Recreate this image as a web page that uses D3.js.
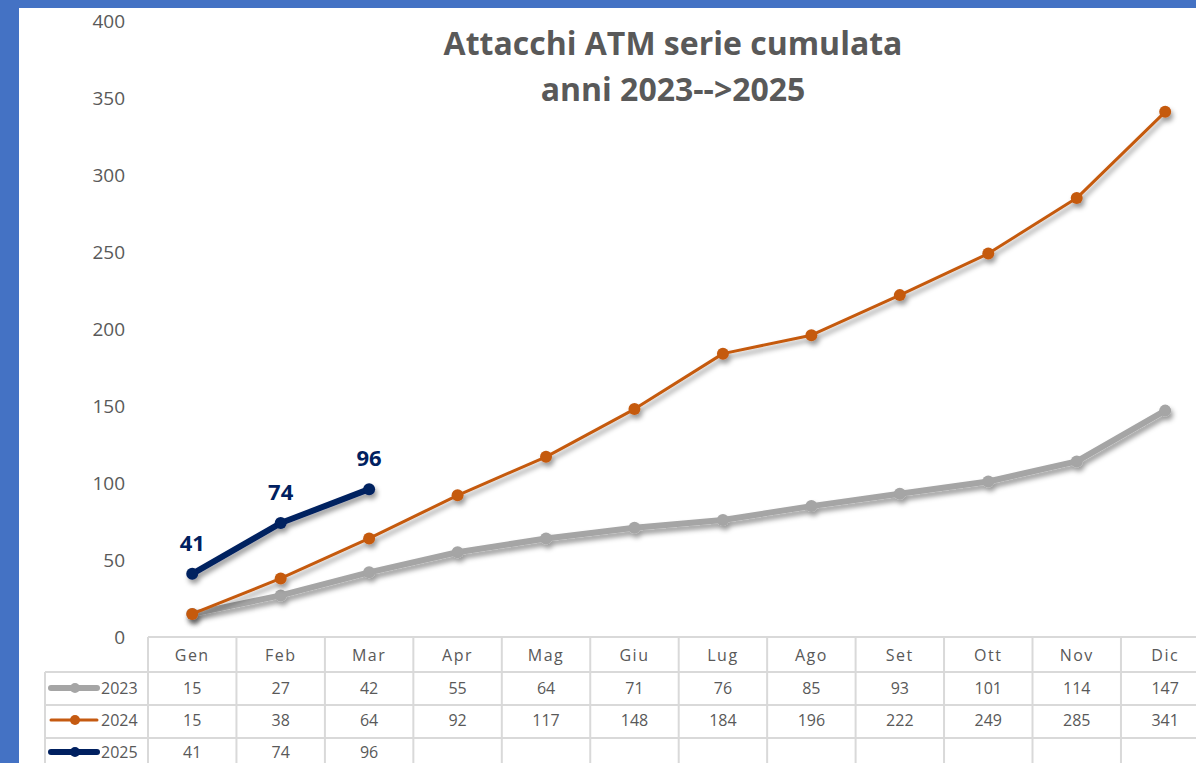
<!DOCTYPE html>
<html>
<head>
<meta charset="utf-8">
<script src="https://cdn.jsdelivr.net/npm/d3@7"></script>
<style>
  body { margin: 0; background: #4472C4; }
  svg { display: block; }
</style>
</head>
<body>
<div id="chart"></div>
<script>
var months = ["Gen", "Feb", "Mar", "Apr", "Mag", "Giu", "Lug", "Ago", "Set", "Ott", "Nov", "Dic"];
var yTicks = [0, 50, 100, 150, 200, 250, 300, 350, 400];
var v2023 = [15, 27, 42, 55, 64, 71, 76, 85, 93, 101, 114, 147];
var v2024 = [15, 38, 64, 92, 117, 148, 184, 196, 222, 249, 285, 341];
var v2025 = [41, 74, 96];

var series = [
  { name: "2023", values: v2023, color: "#A5A5A5", width: 6, r: 6 },
  { name: "2024", values: v2024, color: "#C55A11", width: 3, r: 6 },
  { name: "2025", values: v2025, color: "#002060", width: 6, r: 6 }
];

function init() {
  var w = 1196, h = 763;
  var svg = d3.select("#chart").append("svg")
    .attr("width", w).attr("height", h);

  // drop shadow like the spreadsheet
  var f = svg.append("defs").append("filter").attr("id", "shadow")
    .attr("x", "-10%").attr("y", "-10%").attr("width", "130%").attr("height", "140%");
  f.append("feDropShadow").attr("dx", 2).attr("dy", 4).attr("stdDeviation", 2.5)
    .attr("flood-color", "#000").attr("flood-opacity", 0.4);

  // white chart area inside the blue frame
  svg.append("rect").attr("x", 19).attr("y", 8).attr("width", w - 19).attr("height", h - 8)
    .attr("fill", "#fff");

  var x = d3.scaleBand().domain(months).range([148, 148 + 12 * 88.45]);
  var y = d3.scaleLinear().domain([0, 400]).range([637, 21]);
  var cx = function (i) { return x(months[i]) + x.bandwidth() / 2; };

  // y axis labels
  svg.append("g").selectAll("text").data(yTicks).enter().append("text")
    .attr("x", 125).attr("y", function (d) { return y(d); })
    .attr("dy", "0.35em").attr("text-anchor", "end")
    .attr("font-family", "Open Sans, sans-serif").attr("font-size", 19)
    .attr("fill", "#595959").text(function (d) { return d; });

  // title
  var title = svg.append("text").attr("text-anchor", "middle")
    .attr("font-family", "Open Sans, sans-serif").attr("font-weight", "bold")
    .attr("font-size", 32).attr("fill", "#595959");
  title.append("tspan").attr("x", 673).attr("y", 55).text("Attacchi ATM serie cumulata");
  title.append("tspan").attr("x", 673).attr("y", 101).text("anni 2023-->2025");

  // data table
  var rowY = [637, 672, 705, 738, 771];
  var table = svg.append("g").attr("stroke", "#D9D9D9").attr("stroke-width", 2);
  var xEnd = 148 + 12 * 88.45;
  table.append("line").attr("x1", 148).attr("x2", xEnd).attr("y1", rowY[0]).attr("y2", rowY[0]);
  [1, 2, 3].forEach(function (k) {
    table.append("line").attr("x1", 45).attr("x2", xEnd).attr("y1", rowY[k]).attr("y2", rowY[k]);
  });
  table.append("line").attr("x1", 45).attr("x2", 45).attr("y1", rowY[1]).attr("y2", h);
  months.forEach(function (m) {
    table.append("line").attr("x1", x(m)).attr("x2", x(m)).attr("y1", rowY[0]).attr("y2", h);
  });
  table.append("line").attr("x1", xEnd).attr("x2", xEnd).attr("y1", rowY[0]).attr("y2", h);

  svg.append("g").selectAll("text").data(months).enter().append("text")
    .attr("x", function (d, i) { return cx(i); }).attr("y", 655).attr("dy", "0.35em")
    .attr("text-anchor", "middle").attr("letter-spacing", 1.5)
    .attr("font-family", "Open Sans, sans-serif").attr("font-size", 16)
    .attr("fill", "#595959").text(function (d) { return d; });

  var rowMid = [688, 720, 752];
  series.forEach(function (s, k) {
    var ry = rowMid[k];
    var g = svg.append("g");
    g.selectAll("text").data(s.values).enter().append("text")
      .attr("x", function (d, i) { return cx(i); }).attr("y", ry).attr("dy", "0.35em")
      .attr("text-anchor", "middle")
      .attr("font-family", "Open Sans, sans-serif").attr("font-size", 16)
      .attr("fill", "#595959").text(function (d) { return d; });
    // legend key
    g.append("line").attr("x1", 51).attr("x2", 97).attr("y1", ry).attr("y2", ry)
      .attr("stroke", s.color).attr("stroke-width", s.width).attr("stroke-linecap", "round");
    g.append("circle").attr("cx", 75).attr("cy", ry).attr("r", 5).attr("fill", s.color);
    g.append("text").attr("x", 101).attr("y", ry).attr("dy", "0.35em")
      .attr("font-family", "Open Sans, sans-serif").attr("font-size", 16)
      .attr("fill", "#595959").text(s.name);
  });

  // lines
  var line = d3.line().x(function (d, i) { return cx(i); }).y(function (d) { return y(d); });
  series.forEach(function (s) {
    var g = svg.append("g").attr("filter", "url(#shadow)");
    g.append("path").datum(s.values).attr("d", line)
      .attr("fill", "none").attr("stroke", s.color).attr("stroke-width", s.width)
      .attr("stroke-linejoin", "round").attr("stroke-linecap", "round");
    g.selectAll("circle").data(s.values).enter().append("circle")
      .attr("cx", function (d, i) { return cx(i); }).attr("cy", function (d) { return y(d); })
      .attr("r", s.r).attr("fill", s.color);
  });

  // data labels for 2025
  svg.append("g").selectAll("text").data(v2025).enter().append("text")
    .attr("x", function (d, i) { return cx(i); }).attr("y", function (d) { return y(d) - 23; })
    .attr("text-anchor", "middle")
    .attr("font-family", "Open Sans, sans-serif").attr("font-weight", "bold")
    .attr("font-size", 22).attr("fill", "#002060").text(function (d) { return d; });
}
window.onload = init;
</script>
</body>
</html>
